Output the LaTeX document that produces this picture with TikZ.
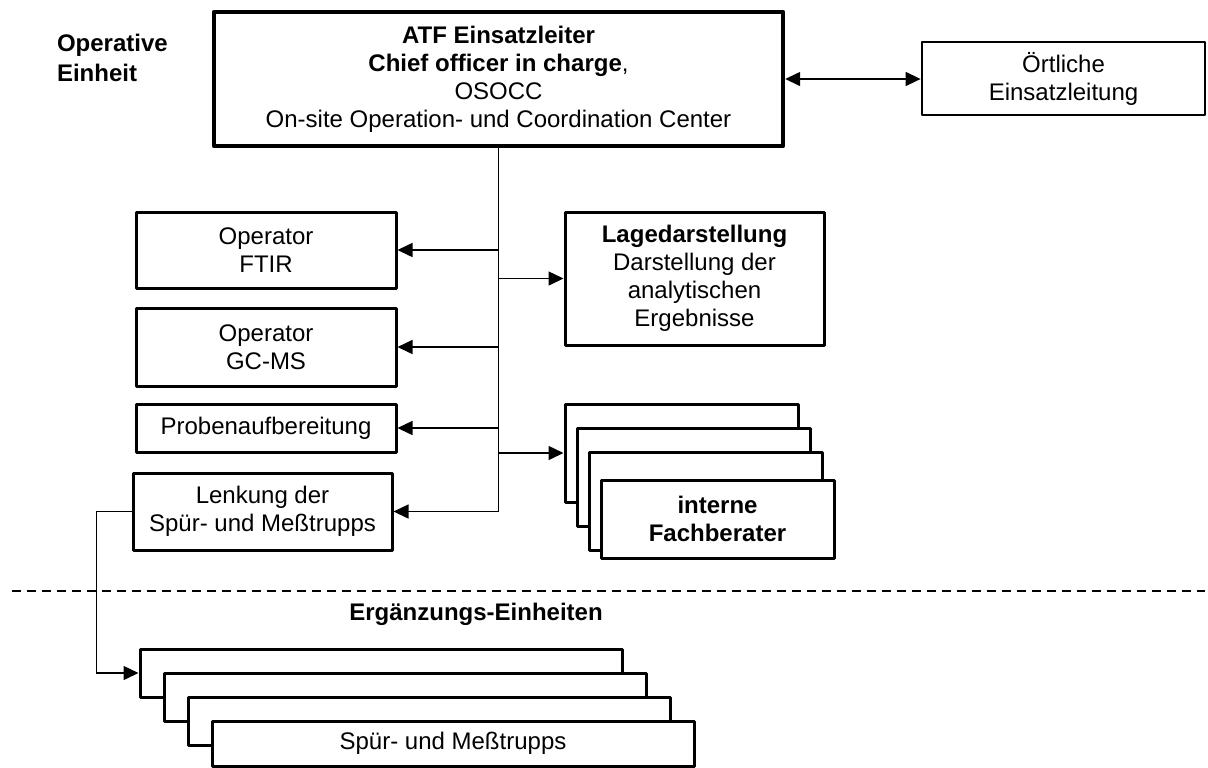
\documentclass[tikz,border=0pt]{standalone}
\usepackage{fontspec}
\setmainfont{Liberation Sans}
\usetikzlibrary{arrows.meta, positioning}
\tikzset{
	unitbox/.style={draw, line width=1.5pt, fill=white, align=center, inner sep=2pt, line join=round, font=\fontsize{12}{14}\selectfont}
}
\tikzset{
	headbox/.style={unitbox, line width=2.2pt}
}
\tikzset{
	grouptext/.style={font=\fontsize{12}{15}\selectfont\bfseries, align=left}
}
\tikzset{
	link/.style={line width=0.75pt}
}
\begin{document}
\begin{tikzpicture}[>={Triangle[length=7.5pt,width=7pt]}, x=0.5pt, y=-0.5pt]
      \useasboundingbox (0,0) rectangle (1208,767);
      % operative unit: head and local command
      \node[grouptext, anchor=west] (oper) at (50,58) {Operative\\Einheit};
      \node[headbox, minimum width=284.5pt, minimum height=67pt] (chief) at (498.5,79)
        {\textbf{ATF Einsatzleiter}\\\textbf{Chief officer in charge},\\OSOCC\\On-site Operation- und Coordination Center};
      \node[unitbox, line width=1.4pt, minimum width=141.5pt, minimum height=36.5pt] (local) at (1063.5,78.5) {Örtliche\\Einsatzleitung};
      \draw[link, <->] (chief.east) -- (chief.east -| local.west);
      % left column
      \node[unitbox, minimum width=130pt, minimum height=38pt] (ftir) at (266,250) {Operator\\FTIR};
      \node[unitbox, minimum width=130pt, minimum height=39pt] (gcms) at (266,347) {Operator\\GC-MS};
      \node[unitbox, minimum width=130pt, minimum height=24pt] (probe) at (266,428) {Probenaufbereitung};
      \node[unitbox, minimum width=129.5pt, minimum height=38.5pt] (lenk) at (262.5,511.5) {Lenkung der\\Spür- und Meßtrupps};
      % right column, with the stack of advisers
      \node[unitbox, minimum width=129.5pt, minimum height=66.5pt] (lage) at (694.5,278.5)
        {\textbf{Lagedarstellung}\\Darstellung der\\analytischen\\Ergebnisse};
      \node[unitbox, minimum width=116.5pt, minimum height=49pt] (fach1) at (681.5,453) {};
      \node[unitbox, minimum width=116.5pt, minimum height=49pt] (fach2) at (693.5,477) {};
      \node[unitbox, minimum width=116.5pt, minimum height=49pt] (fach3) at (705.5,501) {};
      \node[unitbox, minimum width=116.5pt, minimum height=39pt] (fach4) at (717.5,519) {\textbf{interne}\\\textbf{Fachberater}};
      % trunk and branches
      \draw[link] (chief.south) -- (chief.south |- lenk.east);
      \draw[link, ->] (chief.south |- ftir.east) -- (ftir.east);
      \draw[link, ->] (chief.south |- gcms.east) -- (gcms.east);
      \draw[link, ->] (chief.south |- probe.east) -- (probe.east);
      \draw[link, ->] (chief.south |- lenk.east) -- (lenk.east);
      \draw[link, ->] (chief.south |- lage.west) -- (lage.west);
      \draw[link, ->] (chief.south |- fach1.west) -- (fach1.west);
      % border to the supplementary units
      \draw[link, dash pattern=on 4.5pt off 3pt] (12,591) -- (1205,591);
      \node[grouptext] (erg) at (476,614) {Ergänzungs-Einheiten};
      \node[unitbox, minimum width=241pt, minimum height=24pt] (trupp1) at (381,673) {};
      \node[unitbox, minimum width=241pt, minimum height=24pt] (trupp2) at (405,697) {};
      \node[unitbox, minimum width=241pt, minimum height=24pt] (trupp3) at (429,721) {};
      \node[unitbox, minimum width=241pt, minimum height=22.5pt] (trupp4) at (453,743.5) {Spür- und Meßtrupps};
      \draw[link, ->] (lenk.west) -- ++(-35,0) |- (trupp1.west);
    \end{tikzpicture}
\end{document}
